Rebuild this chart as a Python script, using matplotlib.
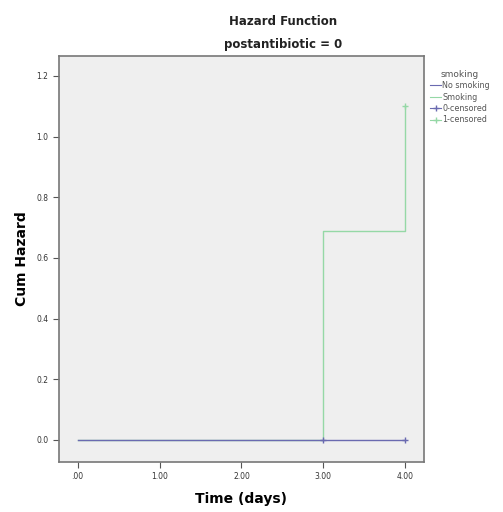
import matplotlib.pyplot as plt
from matplotlib.lines import Line2D

# step data (time, cumulative hazard)
nosmk_t = [0, 3, 4]
nosmk_h = [0.0, 0.0, 0.0]
smk_t = [0, 3, 4]
smk_h = [0.0, 0.69, 1.10]

# censored points
cens0_t = [3, 4]
cens0_h = [0.0, 0.0]
cens1_t = [4]
cens1_h = [1.10]

xticks = [0, 1, 2, 3, 4]
xlabels = [".00", "1.00", "2.00", "3.00", "4.00"]
yticks = [0.0, 0.2, 0.4, 0.6, 0.8, 1.0, 1.2]
ylabels = ["0.0", "0.2", "0.4", "0.6", "0.8", "1.0", "1.2"]

blue = "#6a6ab0"
green = "#95d8a6"

fig = plt.figure(figsize=(5.03, 5.12), dpi=100)
ax = fig.add_axes([0.117, 0.098, 0.726, 0.793])
ax.set_facecolor("#efefef")

ax.step(smk_t, smk_h, where="post", color=green, lw=1)
ax.step(nosmk_t, nosmk_h, where="post", color=blue, lw=1)
ax.plot(cens0_t, cens0_h, "+", color=blue, ms=5)
ax.plot(cens1_t, cens1_h, "+", color=green, ms=5)

ax.set_xlim(-0.23, 4.23)
ax.set_ylim(-0.072, 1.266)
ax.set_xticks(xticks)
ax.set_xticklabels(xlabels)
ax.set_yticks(yticks)
ax.set_yticklabels(ylabels)
ax.tick_params(labelsize=5.5, length=4, width=0.8, colors="#555555", labelcolor="#333333")
for s in ax.spines.values():
    s.set_color("#777777")
    s.set_linewidth(1.2)

ax.set_xlabel("Time (days)", fontsize=10, fontweight="bold", labelpad=8)
ax.set_ylabel("Cum Hazard", fontsize=10, fontweight="bold", labelpad=5)

fig.text(0.563, 0.958, "Hazard Function", ha="center", va="center", fontsize=8.5, fontweight="bold", color="#222222")
fig.text(0.563, 0.913, "postantibiotic = 0", ha="center", va="center", fontsize=8.5, fontweight="bold", color="#222222")

handles = [
    Line2D([], [], color=blue, lw=0.8),
    Line2D([], [], color=green, lw=0.8),
    Line2D([], [], color=blue, lw=0.8, marker="+", ms=4),
    Line2D([], [], color=green, lw=0.8, marker="+", ms=4),
]
names = ["No smoking", "Smoking", "0-censored", "1-censored"]
leg = fig.legend(handles, names, title="smoking", loc="upper left",
                 bbox_to_anchor=(0.849, 0.87), frameon=False, fontsize=5.8,
                 title_fontsize=6.5, handlelength=1.3, handletextpad=0.2,
                 labelspacing=0.3, borderaxespad=0, labelcolor="#555555")
leg._legend_box.align = "center"
leg.get_title().set_color("#555555")

fig.savefig("out.png", dpi=100)
